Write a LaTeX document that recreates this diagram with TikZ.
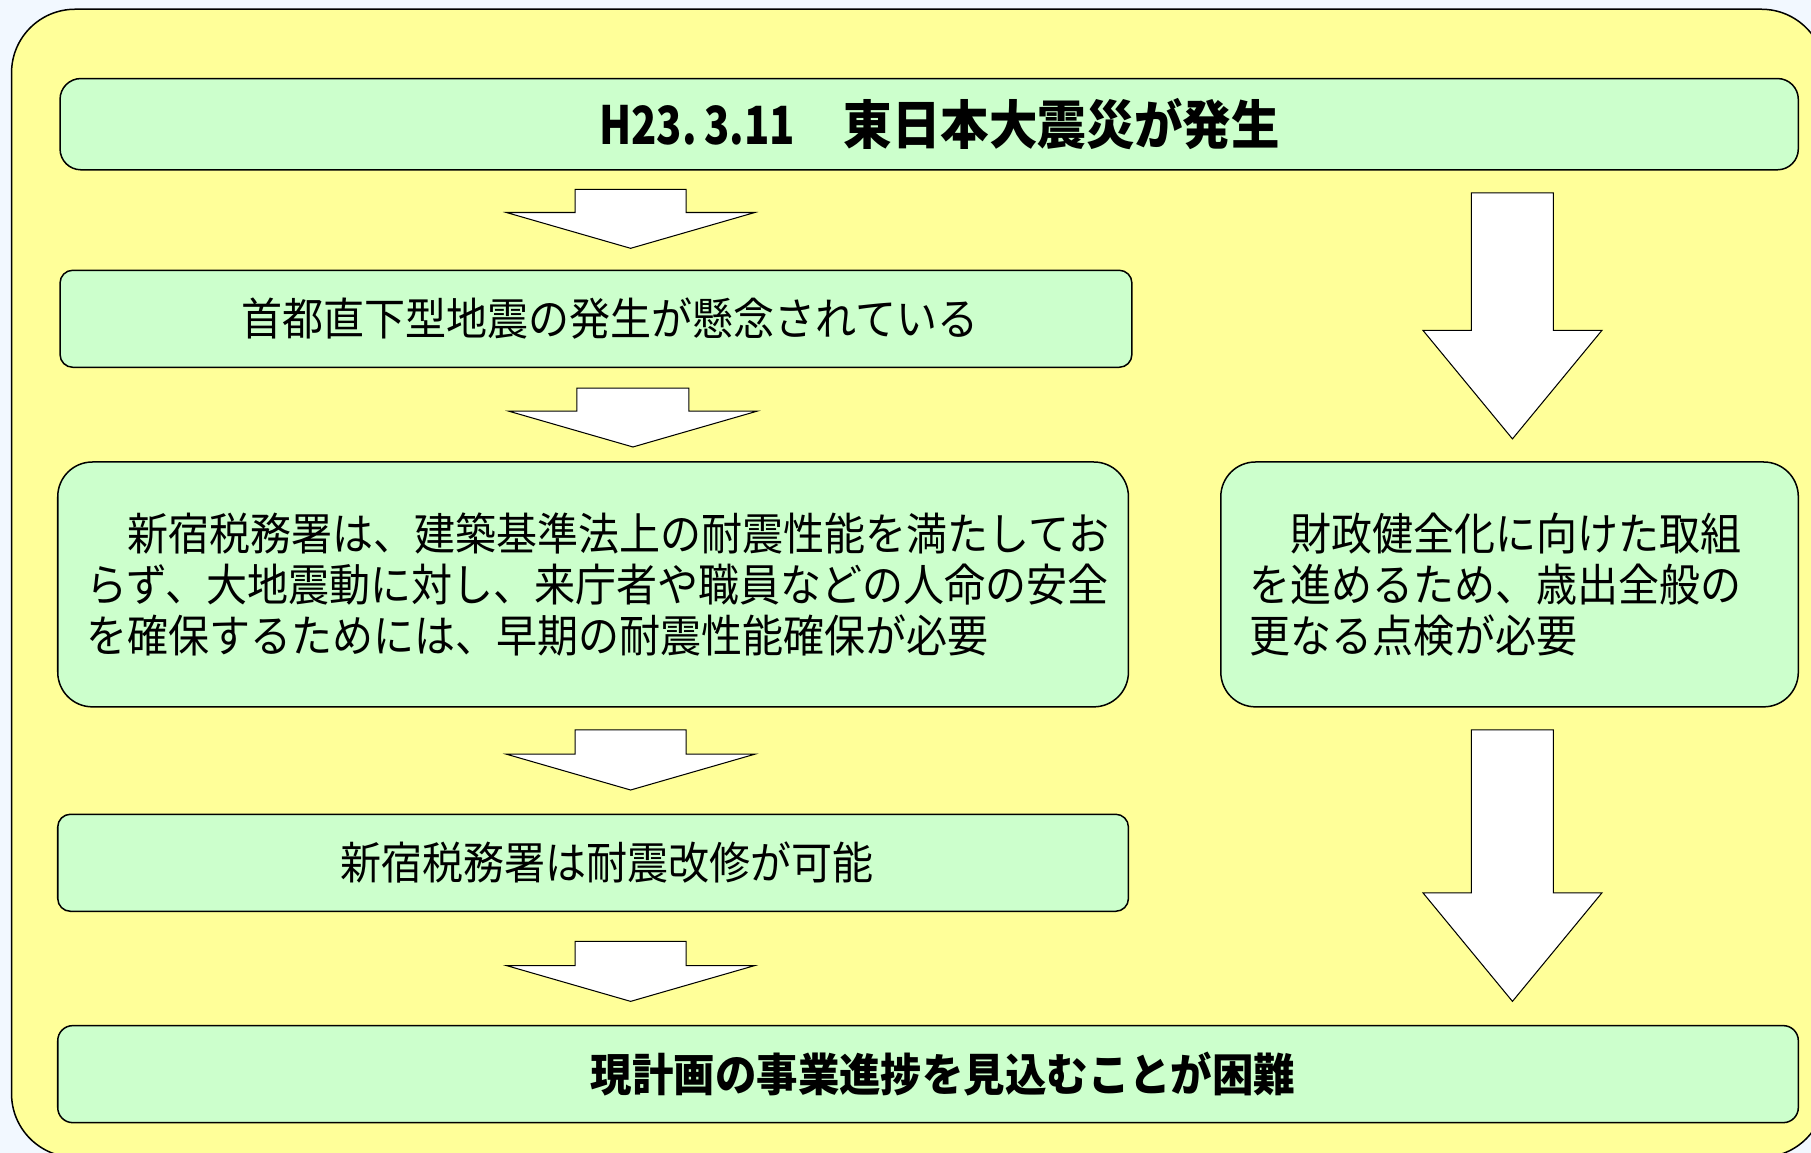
\documentclass[tikz,border=0pt]{standalone}
\usepackage{fontspec}
\newfontfamily\jp[FakeStretch=0.92]{Noto Sans CJK JP}
\definecolor{bgc}{HTML}{F2F8FF}
\definecolor{ylw}{HTML}{FFFF99}
\definecolor{grn}{HTML}{CCFFCC}
\tikzset{
  box/.style={draw=black, line width=1.3pt, fill=grn, rounded corners=#1, inner sep=0pt, anchor=center},
  bodytext/.style={font=\jp\fontsize{38.6}{44}\selectfont},
  boldtext/.style={font=\jp\bfseries\fontsize{39}{44}\selectfont},
  arrowstyle/.style={draw=black, line width=0.9pt, fill=white, line join=miter},
  pics/barrow/.style args={#1/#2/#3/#4}{code={
    \draw[arrowstyle] (-#1,0) -- (#1,0) -- (#1,#3) -- (#2,#3) -- (0,#4) -- (-#2,#3) -- (-#1,#3) -- cycle;
  }}
}
\begin{document}
\begin{tikzpicture}[x=1pt,y=-1pt]
\fill[bgc] (0,0) rectangle (1568,998);
\useasboundingbox (0,0) rectangle (1568,998);
\draw[fill=ylw, line width=1.3pt, rounded corners=55] (10,8) rectangle (1580,1002);

% boxes
\node[box=18, minimum width=1505, minimum height=79, font=\jp\bfseries\fontsize{45.6}{50}\selectfont]
  (top) at (804.5,107.5) {\hspace*{18pt}\scalebox{0.86}[1]{H23.\,3.11}　東日本大震災が発生};
\node[box=11, minimum width=928, minimum height=84, bodytext]
  (fear) at (516,276) {\hspace*{24pt}首都直下型地震の発生が懸念されている};
\node[box=30, minimum width=927, minimum height=212, text width=877, inner xsep=25pt, align=left, bodytext]
  (need) at (513.5,506) {　新宿税務署は、建築基準法上の耐震性能を満たしてお\\らず、大地震動に対し、来庁者や職員などの人命の安全\\を確保するためには、早期の耐震性能確保が必要};
\node[box=30, minimum width=500, minimum height=212, text width=450, inner xsep=25pt, align=left, bodytext]
  (fiscal) at (1307,506) {　財政健全化に向けた取組\\を進めるため、歳出全般の\\更なる点検が必要};
\node[box=11, minimum width=927, minimum height=84, bodytext]
  (retro) at (513.5,747) {\hspace*{24pt}新宿税務署は耐震改修が可能};
\node[box=13, minimum width=1507, minimum height=84, boldtext]
  (hard) at (803.5,930) {\hspace*{26pt}現計画の事業進捗を見込むことが困難};

% block arrows between boxes
\path (546,164) pic {barrow=48/107.5/20/51};
\path (548,336) pic {barrow=48.5/107.5/20/51};
\path (546,632) pic {barrow=48/107.5/21/52};
\path (546,815) pic {barrow=48/107.5/21/52};
\path (1309.5,167) pic {barrow=35.5/77.5/119/213};
\path (1309.5,632) pic {barrow=35.5/77.5/141/235};
\end{tikzpicture}
\end{document}
